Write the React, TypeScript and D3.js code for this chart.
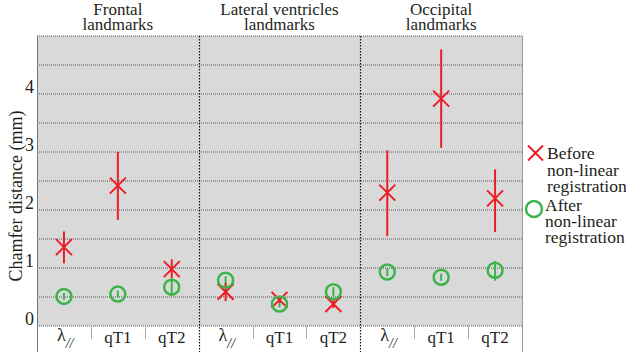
import React, { useEffect } from "react";
import * as d3 from "d3";

// landmark groups and the three measures in each
const groups = ["Frontal|landmarks", "Lateral ventricles|landmarks", "Occipital|landmarks"];
const measures = ["lambda", "qT1", "qT2"];
const yTicks = [0, 1, 2, 3, 4];
const gridLines = [0, 0.5, 1, 1.5, 2, 2.5, 3, 3.5, 4, 4.5, 5];
const legendBefore = ["Before", "non-linear", "registration"];
const legendAfter = ["After", "non-linear", "registration"];

// before non-linear registration: [mean, low, high], group by group
const beforeVals = [
  [1.36, 1.08, 1.63], [2.42, 1.83, 3.0], [0.98, 0.82, 1.15],
  [0.59, 0.43, 0.74], [0.45, 0.4, 0.5], [0.38, 0.31, 0.45],
  [2.3, 1.55, 3.03], [3.92, 3.07, 4.77], [2.2, 1.62, 2.7],
];
// after non-linear registration
const afterVals = [
  [0.51, 0.45, 0.57], [0.55, 0.49, 0.61], [0.67, 0.55, 0.79],
  [0.79, 0.72, 0.86], [0.38, 0.32, 0.44], [0.59, 0.51, 0.67],
  [0.93, 0.86, 1.0], [0.84, 0.78, 0.9], [0.96, 0.78, 1.12],
];

const RED = "#ed1c24";
const GREEN = "#3db449";
const TXT = "#231f20";
const FONT = "Liberation Serif";

const left = 37, right = 522, top = 36, bottom = 326, labBottom = 352;
const y = d3.scaleLinear().domain([0, 5]).range([bottom, top]);
const xg = d3.scaleBand().domain(groups).range([left, right]);
const xm = d3.scaleBand().domain(measures).range([0, xg.bandwidth()]);
const cx = (i: number) =>
  xg(groups[Math.floor(i / 3)])! + xm(measures[i % 3])! + xm.bandwidth() / 2;

function Cross({ x, yy, s }: { x: number; yy: number; s: number }) {
  return (
    <path
      d={`M${x - s},${yy - s}L${x + s},${yy + s}M${x - s},${yy + s}L${x + s},${yy - s}`}
      stroke={RED} strokeWidth={2} fill="none"
    />
  );
}

function T({ x, y: yy, size, anchor = "start", children, transform }: any) {
  return (
    <text x={x} y={yy} textAnchor={anchor} fill={TXT} transform={transform}
      style={{ fontFamily: FONT, fontSize: size }}>
      {children}
    </text>
  );
}

export default function App() {
  useEffect(() => {
    document.body.style.margin = "0";
  }, []);

  return (
    <svg width={626} height={356} style={{ display: "block" }}>
      <rect x={left} y={top} width={right - left} height={bottom - top} fill="#d9d9d9" />
      {gridLines.map((d) => (
        <line key={d} x1={left} x2={right} y1={y(d)} y2={y(d)}
          stroke="#555" strokeWidth={1} strokeDasharray="1,1" />
      ))}
      <line x1={left + 0.5} x2={left + 0.5} y1={top} y2={labBottom} stroke="#777" />
      <line x1={right + 0.5} x2={right + 0.5} y1={top} y2={labBottom} stroke="#999" />
      {groups.slice(1).map((grp) => {
        const x = Math.round(xg(grp)!) + 0.5;
        return (
          <line key={grp} x1={x} x2={x} y1={top} y2={labBottom}
            stroke="#111" strokeWidth={1.2} strokeDasharray="1.5,1.5" />
        );
      })}
      {groups.map((grp) =>
        [1, 2].map((k) => {
          const x = Math.round(xg(grp)! + xm(measures[k])!) + 0.5;
          return <line key={grp + k} x1={x} x2={x} y1={bottom} y2={bottom + 13} stroke="#aaa" />;
        })
      )}

      {yTicks.map((d) => (
        <T key={d} x={34} y={y(d) - 1} size={18} anchor="end">{d}</T>
      ))}
      <T x={0} y={0} size={18} anchor="middle" transform="translate(22,196) rotate(-90)">
        Chamfer distance (mm)
      </T>

      {groups.map((grp) => {
        const [a, b] = grp.split("|");
        const x = xg(grp)! + xg.bandwidth() / 2;
        return (
          <g key={grp}>
            <T x={x} y={15} size={17} anchor="middle">{a}</T>
            <T x={x} y={30} size={17} anchor="middle">{b}</T>
          </g>
        );
      })}

      {d3.range(9).map((i) => {
        const m = measures[i % 3];
        return m === "lambda" ? (
          <T key={i} x={cx(i) - 7} y={341} size={18}>
            <tspan>λ</tspan>
            <tspan dy={7} style={{ fontSize: 14, fontStyle: "italic" }}>//</tspan>
          </T>
        ) : (
          <T key={i} x={cx(i)} y={343} size={17} anchor="middle">{m}</T>
        );
      })}

      {afterVals.map((v, i) => (
        <line key={"ae" + i} x1={cx(i)} x2={cx(i)} y1={y(v[1])} y2={y(v[2])} stroke={GREEN} strokeWidth={2} />
      ))}
      {beforeVals.map((v, i) => (
        <g key={"b" + i}>
          <line x1={cx(i)} x2={cx(i)} y1={y(v[1])} y2={y(v[2])} stroke={RED} strokeWidth={2} />
          <Cross x={cx(i)} yy={y(v[0])} s={8} />
        </g>
      ))}
      {afterVals.map((v, i) => (
        <circle key={"a" + i} cx={cx(i)} cy={y(v[0])} r={7.5} fill="none" stroke={GREEN} strokeWidth={2.5} />
      ))}

      <Cross x={535.5} yy={153} s={7.5} />
      {legendBefore.map((s, k) => (
        <T key={"lb" + k} x={547} y={159 + k * 16.5} size={17.5}>{s}</T>
      ))}
      <circle cx={534} cy={209} r={8} fill="none" stroke={GREEN} strokeWidth={2.5} />
      {legendAfter.map((s, k) => (
        <T key={"la" + k} x={545} y={211 + k * 16} size={17.5}>{s}</T>
      ))}
    </svg>
  );
}
